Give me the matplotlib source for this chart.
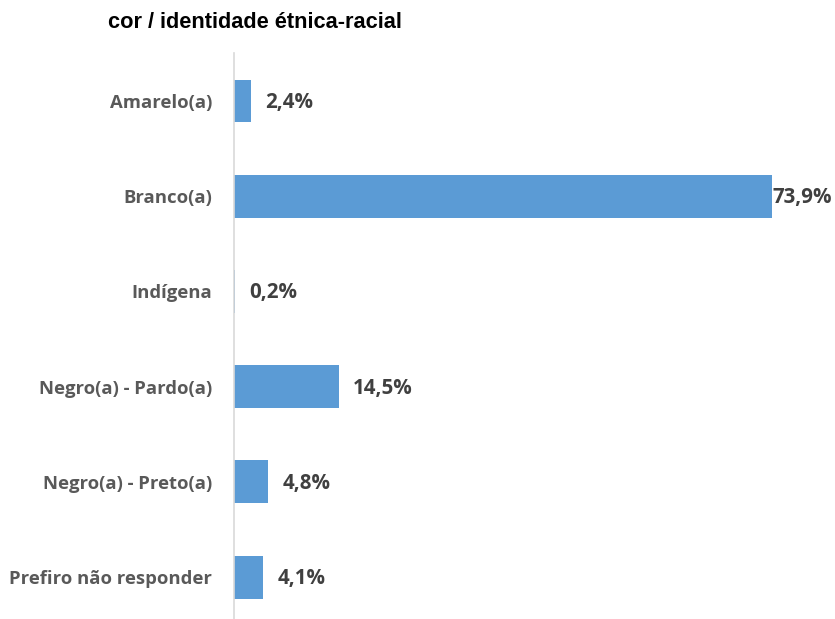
import matplotlib
matplotlib.use("Agg")
import matplotlib.pyplot as plt

categories = ["Amarelo(a)", "Branco(a)", "Indígena", "Negro(a) - Pardo(a)",
              "Negro(a) - Preto(a)", "Prefiro não responder"]
values = [2.4, 73.9, 0.2, 14.5, 4.8, 4.1]
value_labels = ["2,4%", "73,9%", "0,2%", "14,5%", "4,8%", "4,1%"]
title = "cor / identidade étnica-racial"

W, H = 835, 619
fig = plt.figure(figsize=(W / 100, H / 100), dpi=100)
left = 233.5 / W
ax = fig.add_axes([left, 0, 1 - left, 1 - 53 / H])

ypos = list(range(len(categories)))
ax.barh(ypos, values, height=0.45, color="#5B9BD5", edgecolor="none")
ax.set_ylim(5.44, -0.504)
ax.set_xlim(0, (W - 233.5) / 7.29)

for s in ["top", "right", "bottom"]:
    ax.spines[s].set_visible(False)
ax.spines["left"].set_color("#D9D9D9")
ax.spines["left"].set_linewidth(1.2)
ax.set_xticks([])
ax.set_yticks(ypos)
ax.set_yticklabels(categories, fontfamily="Open Sans", fontweight="bold",
                   fontsize=13.3, color="#595959")
ax.tick_params(axis="y", length=0, pad=15.5)

xmax = ax.get_xlim()[1]
for y, v, lab in zip(ypos, values, value_labels):
    off = 10 if v < 0.85 * xmax else 0.5
    ax.annotate(lab, (v, y), xytext=(off, -1), textcoords="offset points",
                ha="left", va="center", fontfamily="Open Sans",
                fontweight="bold", fontsize=14.8, color="#404040")

fig.text(108 / W, 1 - 22 / H, title, fontfamily="Liberation Sans",
         fontweight="bold", fontsize=15.7, color="black", ha="left", va="center")

fig.savefig("out.png", dpi=100)
